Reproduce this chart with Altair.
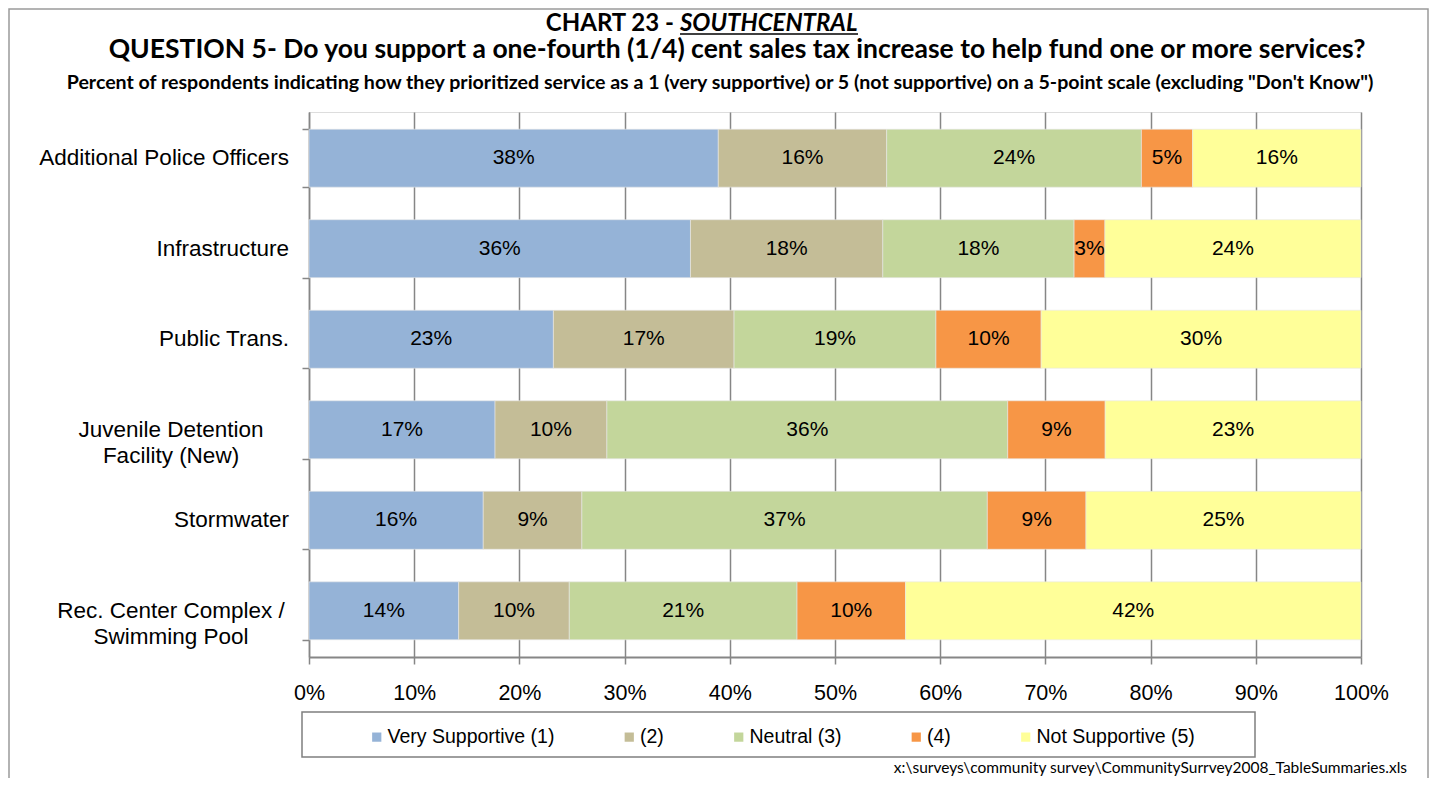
import altair as alt
import pandas as pd

categories = [
    "Additional Police Officers",
    "Infrastructure",
    "Public Trans.",
    "Juvenile Detention\nFacility (New)",
    "Stormwater",
    "Rec. Center Complex /\nSwimming Pool",
]
responses = ["Very Supportive (1)", "(2)", "Neutral (3)", "(4)", "Not Supportive (5)"]
colors = ["#95B3D7", "#C4BD97", "#C3D69B", "#F79646", "#FFFF99"]

very_supportive = [38.4, 35.9, 23.0, 16.8, 15.9, 13.8]
level_2 = [15.8, 18.1, 17.0, 10.1, 9.0, 10.2]
neutral = [23.9, 18.0, 19.0, 36.2, 37.0, 21.0]
level_4 = [4.8, 2.9, 9.9, 8.8, 9.0, 10.0]
not_supportive = [15.8, 24.1, 30.1, 23.1, 25.1, 42.0]

x_ticks = [0, 0.1, 0.2, 0.3, 0.4, 0.5, 0.6, 0.7, 0.8, 0.9, 1.0]

title_1a = "CHART 23 -"
title_1b = "SOUTHCENTRAL"
title_2 = "QUESTION 5- Do you support a one-fourth (1/4) cent sales tax increase to help fund one or more services?"
title_3 = "Percent of respondents  indicating  how they prioritized  service as a 1 (very supportive)  or 5 (not supportive)  on a 5-point scale (excluding \"Don't Know\")"
footnote = "x:\\surveys\\community survey\\CommunitySurrvey2008_TableSummaries.xls"

series = [very_supportive, level_2, neutral, level_4, not_supportive]
rows = []
for r, (resp, vals) in enumerate(zip(responses, series)):
    for cat, v in zip(categories, vals):
        rows.append({"category": cat, "response": resp, "rank": r, "value": v})
df = pd.DataFrame(rows)
cat_df = pd.DataFrame({"category": categories,
                       "multi": ["\n" in c for c in categories]})
one = pd.DataFrame({"a": [0]})

W, H = 1052, 545
GRID = "#868686"
AX_FONT = "Liberation Sans"
TITLE_FONT = "Lato"

y_enc = alt.Y("category:N", sort=categories,
              scale=alt.Scale(paddingInner=0.36, paddingOuter=0.19),
              axis=alt.Axis(title=None, labels=False, tickBand="extent", tickSize=7,
                            tickColor=GRID, domainColor=GRID, tickWidth=1.5, domainWidth=1.5,
                            grid=False))

stacked = alt.Chart(df).transform_stack(
    stack="value", groupby=["category"], as_=["v0", "v1"], offset="normalize",
    sort=[alt.SortField("rank", order="ascending")]
)

bars = stacked.mark_bar(stroke="#e8e8e8", strokeWidth=0.6).encode(
    x=alt.X("v0:Q", scale=alt.Scale(domain=[0, 1], nice=False),
            axis=alt.Axis(title=None, format=".0%", values=x_ticks, grid=True, gridColor=GRID,
                          gridWidth=1.5, domainColor=GRID, domainWidth=2, tickColor=GRID,
                          tickWidth=1.5, tickSize=7, labelFont=AX_FONT, labelFontSize=21.5,
                          labelColor="black", labelPadding=18, labelFlush=False,
                          labelOverlap=False)),
    x2="v1:Q",
    y=y_enc,
    color=alt.Color("response:N", scale=alt.Scale(domain=responses, range=colors),
                    legend=alt.Legend(title=None, orient="none", legendX=58, legendY=615,
                                      direction="horizontal", symbolType="square",
                                      symbolSize=85, symbolStrokeWidth=0,
                                      labelFont=AX_FONT, labelFontSize=19.5, labelColor="black",
                                      labelLimit=0, columnPadding=64.5, labelOffset=1,
                                      padding=0)),
)

labels = stacked.transform_calculate(
    mid="(datum.v0 + datum.v1) / 2",
    label="format(datum.value, '.0f') + '%'",
).mark_text(font=AX_FONT, fontSize=21, color="black", baseline="middle").encode(
    x="mid:Q", y=alt.Y("category:N", sort=categories), text="label:N"
)

cat_single = alt.Chart(cat_df).transform_filter("!datum.multi").mark_text(
    font=AX_FONT, fontSize=22.5, color="black", align="right", baseline="middle"
).encode(x=alt.value(-20), y=alt.Y("category:N", sort=categories), text="category:N")

cat_multi = alt.Chart(cat_df).transform_filter("datum.multi").mark_text(
    font=AX_FONT, fontSize=22.5, color="black", align="center", baseline="middle",
    lineBreak="\n", lineHeight=26
).encode(x=alt.value(-138), y=alt.Y("category:N", sort=categories), text="category:N")

legend_box = alt.Chart(one).mark_rect(fillOpacity=0, stroke="#7f7f7f", strokeWidth=1.5).encode(
    x=alt.value(-7), x2=alt.value(946), y=alt.value(600), y2=alt.value(645)
)
outer_box = alt.Chart(one).mark_rect(fillOpacity=0, stroke="#9a9a9a", strokeWidth=1.5).encode(
    x=alt.value(-300), x2=alt.value(1119), y=alt.value(-103), y2=alt.value(700)
)

t1a = alt.Chart(one).mark_text(font=TITLE_FONT, fontSize=24, fontWeight="bold", align="right",
                               baseline="middle", color="black").encode(
    x=alt.value(365), y=alt.value(-88), text=alt.value(title_1a))
t1b = alt.Chart(one).mark_text(font=TITLE_FONT, fontSize=24, fontWeight="bold", fontStyle="italic",
                               align="left", baseline="middle", color="black").encode(
    x=alt.value(371), y=alt.value(-88), text=alt.value(title_1b))
t1u = alt.Chart(one).mark_rule(color="black", strokeWidth=1.5).encode(
    x=alt.value(371), x2=alt.value(549), y=alt.value(-78))
t2 = alt.Chart(one).mark_text(font=TITLE_FONT, fontSize=26.5, fontWeight="bold", align="center",
                              baseline="middle", color="black").encode(
    x=alt.value(428), y=alt.value(-62), text=alt.value(title_2))
t3 = alt.Chart(one).mark_text(font=TITLE_FONT, fontSize=19.6, fontWeight="bold", align="center",
                              baseline="middle", color="black").encode(
    x=alt.value(411), y=alt.value(-29), text=alt.value(title_3))
foot = alt.Chart(one).mark_text(font=TITLE_FONT, fontSize=15.5, align="right",
                                baseline="alphabetic", color="black").encode(
    x=alt.value(1098), y=alt.value(661), text=alt.value(footnote))

chart = alt.layer(
    bars, labels, cat_single, cat_multi, legend_box, outer_box, t1a, t1b, t1u, t2, t3, foot
).properties(
    width=W, height=H,
    autosize=alt.AutoSizeParams(type="none"),
    padding={"left": 301, "top": 104, "right": 68, "bottom": 121},
).configure_view(stroke=None).configure(background="white")

chart.save("out.html", embed_options={"renderer": "svg", "actions": False})
